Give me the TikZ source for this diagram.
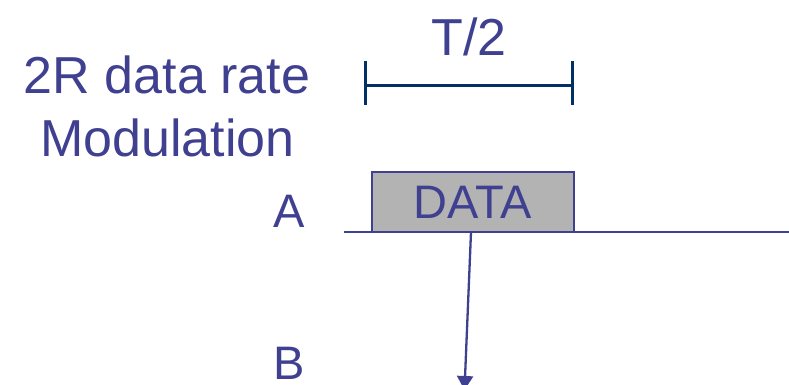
\documentclass[tikz,border=0pt]{standalone}
\usepackage{fontspec}
\setmainfont{Liberation Sans}
\usetikzlibrary{arrows.meta}
\definecolor{txtblue}{RGB}{64,64,144}
\definecolor{navy}{RGB}{0,48,100}
\definecolor{boxgray}{RGB}{179,179,179}
\tikzset{
  lbl/.style={text=txtblue, inner sep=0pt, font=\fontsize{52}{60}\selectfont},
  sidelbl/.style={text=txtblue, inner sep=0pt, anchor=base west, font=\fontsize{47}{54}\selectfont},
  databox/.style={draw=txtblue, line width=2.2pt, fill=boxgray, text=txtblue, inner sep=0pt,
    minimum width=202pt, minimum height=60pt, font=\fontsize{47}{54}\selectfont},
  tline/.style={draw=txtblue, line width=2.5pt},
  bracket/.style={draw=navy, line width=3pt},
  sig/.style={draw=txtblue, line width=2.3pt, -{Triangle[width=16pt,length=14pt]}}
}
\begin{document}
\begin{tikzpicture}[x=1pt,y=-1pt]
\useasboundingbox (0,0) rectangle (789,384);
\clip (0,0) rectangle (789,384);
% title
\node[lbl, anchor=base] (t1) at (167,93) {2R data rate};
\node[lbl, anchor=base] (t2) at (167.5,156) {Modulation};
% T/2 bracket
\node[lbl, anchor=base] (thalf) at (469,55) {T/2};
\coordinate (bl) at (365,85);
\coordinate (br) at (572,85);
\draw[bracket] (bl) -- (br);
\draw[bracket] ([yshift=-20pt]bl) -- ([yshift=24pt]bl);
\draw[bracket] ([yshift=-20pt]br) -- ([yshift=24pt]br);
% time line A
\coordinate (lineL) at (344,232);
\coordinate (lineR) at (789,232);
\draw[tline] (lineL) -- (lineR);
\node[databox] (data) at (473,202) {DATA};
\node[sidelbl] (A) at (273,227) {A};
\node[sidelbl] (B) at (273,379) {B};
% arrow
\coordinate (arrS) at (471,232);
\coordinate (arrE) at (464.5,390);
\draw[sig] (arrS) -- (arrE);
\end{tikzpicture}
\end{document}
